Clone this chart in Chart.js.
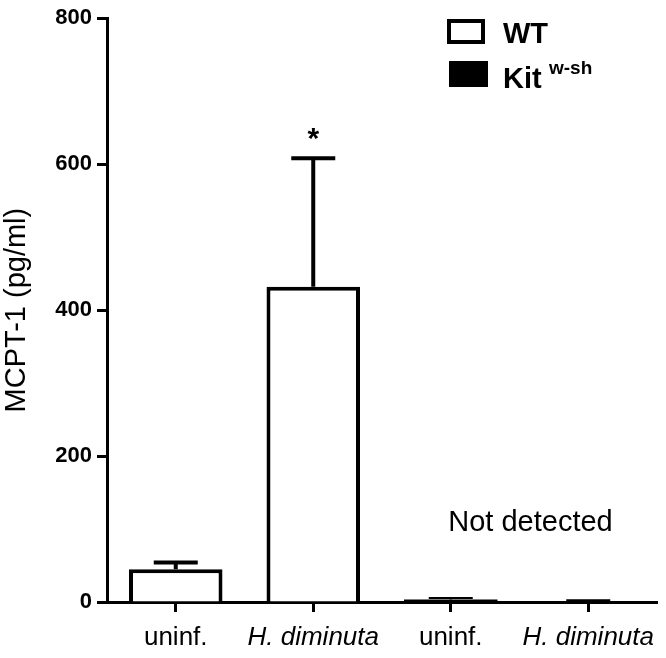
<!DOCTYPE html>
<html>
<head>
<meta charset="utf-8">
<script src="https://cdn.jsdelivr.net/npm/chart.js@4"></script>
<style>
  html, body { margin: 0; padding: 0; background: #fff; }
  #wrap { width: 666px; height: 658px; position: relative; }
</style>
</head>
<body>
<div id="wrap"><canvas id="chart" width="666" height="658"></canvas></div>
<script>
const categories = ['uninf.', 'H. diminuta', 'uninf.', 'H. diminuta'];
const wtValues = [45, 432, null, null];
const wtErrors = [54, 608, null, null];
const kitValues = [null, null, 3.5, 0];
const kitErrors = [null, null, 5.5, 2.5];
const yTicks = [0, 200, 400, 600, 800];

const FONT = "'Liberation Sans', Arial, sans-serif";

// error bars, asterisk, "Not detected" and the legend
const extras = {
  id: 'extras',
  afterDatasetsDraw(chart) {
    const { ctx, scales: { x, y } } = chart;
    ctx.save();
    ctx.strokeStyle = '#000';
    ctx.fillStyle = '#000';
    const errs = [wtErrors, kitErrors];
    const vals = [wtValues, kitValues];
    errs.forEach((errArr, d) => {
      errArr.forEach((e, i) => {
        if (e == null) return;
        const px = x.getPixelForValue(i);
        const top = y.getPixelForValue(e);
        const base = y.getPixelForValue(vals[d][i]);
        ctx.lineWidth = d === 0 ? 4 : 2;
        ctx.beginPath();
        ctx.moveTo(px, base);
        ctx.lineTo(px, top);
        ctx.moveTo(px - 22, top);
        ctx.lineTo(px + 22, top);
        ctx.stroke();
      });
    });

    ctx.font = 'bold 30px ' + FONT;
    ctx.textAlign = 'center';
    ctx.textBaseline = 'alphabetic';
    ctx.fillText('*', x.getPixelForValue(1), y.getPixelForValue(wtErrors[1]) - 10);

    ctx.font = '29px ' + FONT;
    ctx.textBaseline = 'middle';
    ctx.fillText('Not detected', x.getPixelForValue(2.58), y.getPixelForValue(108));

    // legend
    ctx.lineWidth = 4;
    ctx.strokeRect(449, 21, 34, 21);
    ctx.fillRect(449, 61, 39, 26);
    ctx.textAlign = 'left';
    ctx.textBaseline = 'alphabetic';
    ctx.font = 'bold 29px ' + FONT;
    ctx.fillText('WT', 503, 43);
    ctx.fillText('Kit', 503, 88);
    ctx.font = 'bold 19px ' + FONT;
    ctx.fillText('w-sh', 549, 74);
    ctx.restore();
  }
};

new Chart(document.getElementById('chart'), {
  type: 'bar',
  data: {
    labels: categories,
    datasets: [
      { label: 'WT', data: wtValues, backgroundColor: '#fff', borderColor: '#000', borderWidth: 4, borderSkipped: 'bottom' },
      { label: 'Kit w-sh', data: kitValues, backgroundColor: '#000', borderColor: '#000', borderWidth: 0 }
    ]
  },
  options: {
    responsive: false,
    animation: false,
    layout: { padding: { top: 11, right: 9, left: 0, bottom: 0 } },
    datasets: { bar: { grouped: false, barPercentage: 0.68, categoryPercentage: 1 } },
    plugins: { legend: { display: false }, tooltip: { enabled: false } },
    scales: {
      x: {
        afterFit: s => { s.height = 56; },
        grid: { offset: false, drawOnChartArea: false, tickLength: 10, tickWidth: 3, tickColor: '#000' },
        border: { color: '#000', width: 3 },
        ticks: {
          color: '#000',
          padding: 10,
          font: c => ({ family: FONT, size: 26, style: c.index % 2 ? 'italic' : 'normal' })
        }
      },
      y: {
        min: 0, max: 800,
        afterFit: s => { s.width = 107; },
        afterBuildTicks: s => { s.ticks = yTicks.map(v => ({ value: v })); },
        grid: { drawOnChartArea: false, tickLength: 10, tickWidth: 3, tickColor: '#000' },
        border: { color: '#000', width: 3 },
        ticks: { color: '#000', padding: 5, font: { family: FONT, size: 22, weight: 'bold' } },
        title: { display: true, text: 'MCPT-1 (pg/ml)', color: '#000', padding: 0, font: { family: FONT, size: 29 } }
      }
    }
  },
  plugins: [extras]
});
</script>
</body>
</html>
